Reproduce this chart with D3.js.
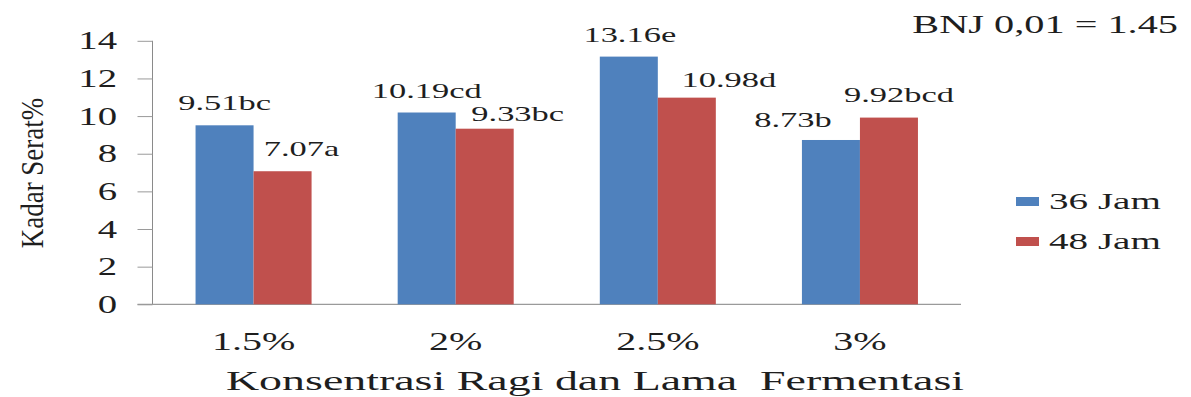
<!DOCTYPE html>
<html>
<head>
<meta charset="utf-8">
<script src="https://cdn.jsdelivr.net/npm/d3@7"></script>
<style>
  html, body { margin: 0; padding: 0; background: #fff; }
  svg { display: block; }
</style>
</head>
<body>
<svg id="chart" width="1191" height="397"></svg>
<script>
// Fibre content (Kadar Serat %) by yeast concentration and fermentation time
const categories = ["1.5%", "2%", "2.5%", "3%"];
const seriesNames = ["36 Jam", "48 Jam"];
const values36 = [9.51, 10.19, 13.16, 8.73];
const values48 = [7.07, 9.33, 10.98, 9.92];
const notation36 = ["bc", "cd", "e", "b"];
const notation48 = ["a", "bc", "d", "bcd"];
const yTicks = [0, 2, 4, 6, 8, 10, 12, 14];
const bnjNote = "BNJ 0,01 = 1.45";
const xTitle = "Konsentrasi Ragi dan Lama  Fermentasi";
const yTitle = "Kadar Serat%";

// label placement: [horizontal shift from bar centre, gap above bar top]
const labelNudge36 = [[0, 15], [0, 14.5], [1, 14.3], [-38, 12.6]];
const labelNudge48 = [[19, 15], [33, 8], [42, 10.4], [10, 15.6]];

const colors = ["#4F81BD", "#C0504D"];
const FONT = "'Liberation Serif', 'Times New Roman', Times, serif";
const INK = "#1e1e1e";

const svg = d3.select("#chart");

const plot = { left: 152.5, right: 961, top: 40.8, bottom: 304.3 };

const x0 = d3.scaleBand()
  .domain(categories)
  .range([plot.left, plot.right])
  .paddingInner(0.426)
  .paddingOuter(0.213);

const x1 = d3.scaleBand()
  .domain(seriesNames)
  .range([0, x0.bandwidth()]);

const y = d3.scaleLinear().domain([0, 14]).range([plot.bottom, plot.top]);

// horizontally stretched serif text
function stretchedText(g, x, yy, str, size, anchor, sx) {
  return g.append("text")
    .attr("transform", `translate(${x},${yy}) scale(${sx},1)`)
    .attr("text-anchor", anchor)
    .attr("font-family", FONT)
    .attr("font-size", size)
    .attr("fill", INK)
    .text(str);
}

// y axis
const yAxis = d3.axisLeft(y).tickValues(yTicks).tickSize(15).tickFormat("");
const yg = svg.append("g").attr("transform", `translate(${plot.left},0)`).call(yAxis);
yg.select(".domain").attr("stroke", "#8a8a8a").attr("d", `M0,${plot.top}V${plot.bottom}`);
yg.selectAll(".tick line").attr("stroke", "#9a9a9a");
yTicks.forEach(t => {
  stretchedText(svg, 117, y(t) + 8.5, String(t), 25, "end", 1.55);
});

// baseline
svg.append("line")
  .attr("x1", plot.left - 15).attr("x2", plot.right)
  .attr("y1", y(0)).attr("y2", y(0))
  .attr("stroke", "#9a9a9a").attr("stroke-width", 1.2);

// bars
const table = categories.map((c, i) => ({
  cat: c,
  items: [
    { s: seriesNames[0], v: values36[i], n: notation36[i], nudge: labelNudge36[i], color: colors[0] },
    { s: seriesNames[1], v: values48[i], n: notation48[i], nudge: labelNudge48[i], color: colors[1] }
  ]
}));

const groups = svg.selectAll("g.grp").data(table).join("g")
  .attr("class", "grp")
  .attr("transform", d => `translate(${x0(d.cat)},0)`);

groups.selectAll("rect").data(d => d.items).join("rect")
  .attr("x", d => x1(d.s))
  .attr("width", x1.bandwidth())
  .attr("y", d => y(d.v))
  .attr("height", d => y(0) - y(d.v))
  .attr("fill", d => d.color);

// value labels with significance letters
groups.each(function (d) {
  const g = d3.select(this);
  d.items.forEach(it => {
    const cx = x1(it.s) + x1.bandwidth() / 2 + it.nudge[0];
    stretchedText(g, cx, y(it.v) - it.nudge[1], it.v.toFixed(2) + it.n, 21, "middle", 1.64);
  });
});

// category labels
categories.forEach(c => {
  stretchedText(svg, x0(c) + x0.bandwidth() / 2, 350, c, 25, "middle", 1.6);
});

// axis titles
stretchedText(svg, 595, 390, xTitle, 28, "middle", 1.64).style("white-space", "pre");
svg.append("text")
  .attr("transform", "translate(43,173) rotate(-90) scale(1,1.15)")
  .attr("text-anchor", "middle")
  .attr("font-family", FONT)
  .attr("font-size", 27)
  .attr("fill", INK)
  .text(yTitle);

// significance note
stretchedText(svg, 1178, 33, bnjNote, 26, "end", 1.55);

// legend
seriesNames.forEach((s, i) => {
  const ly = 209 + i * 40;
  svg.append("rect")
    .attr("x", 1016).attr("y", ly - 12)
    .attr("width", 23).attr("height", 9)
    .attr("fill", colors[i]);
  stretchedText(svg, 1049, ly, s, 24, "start", 1.63);
});
</script>
</body>
</html>
